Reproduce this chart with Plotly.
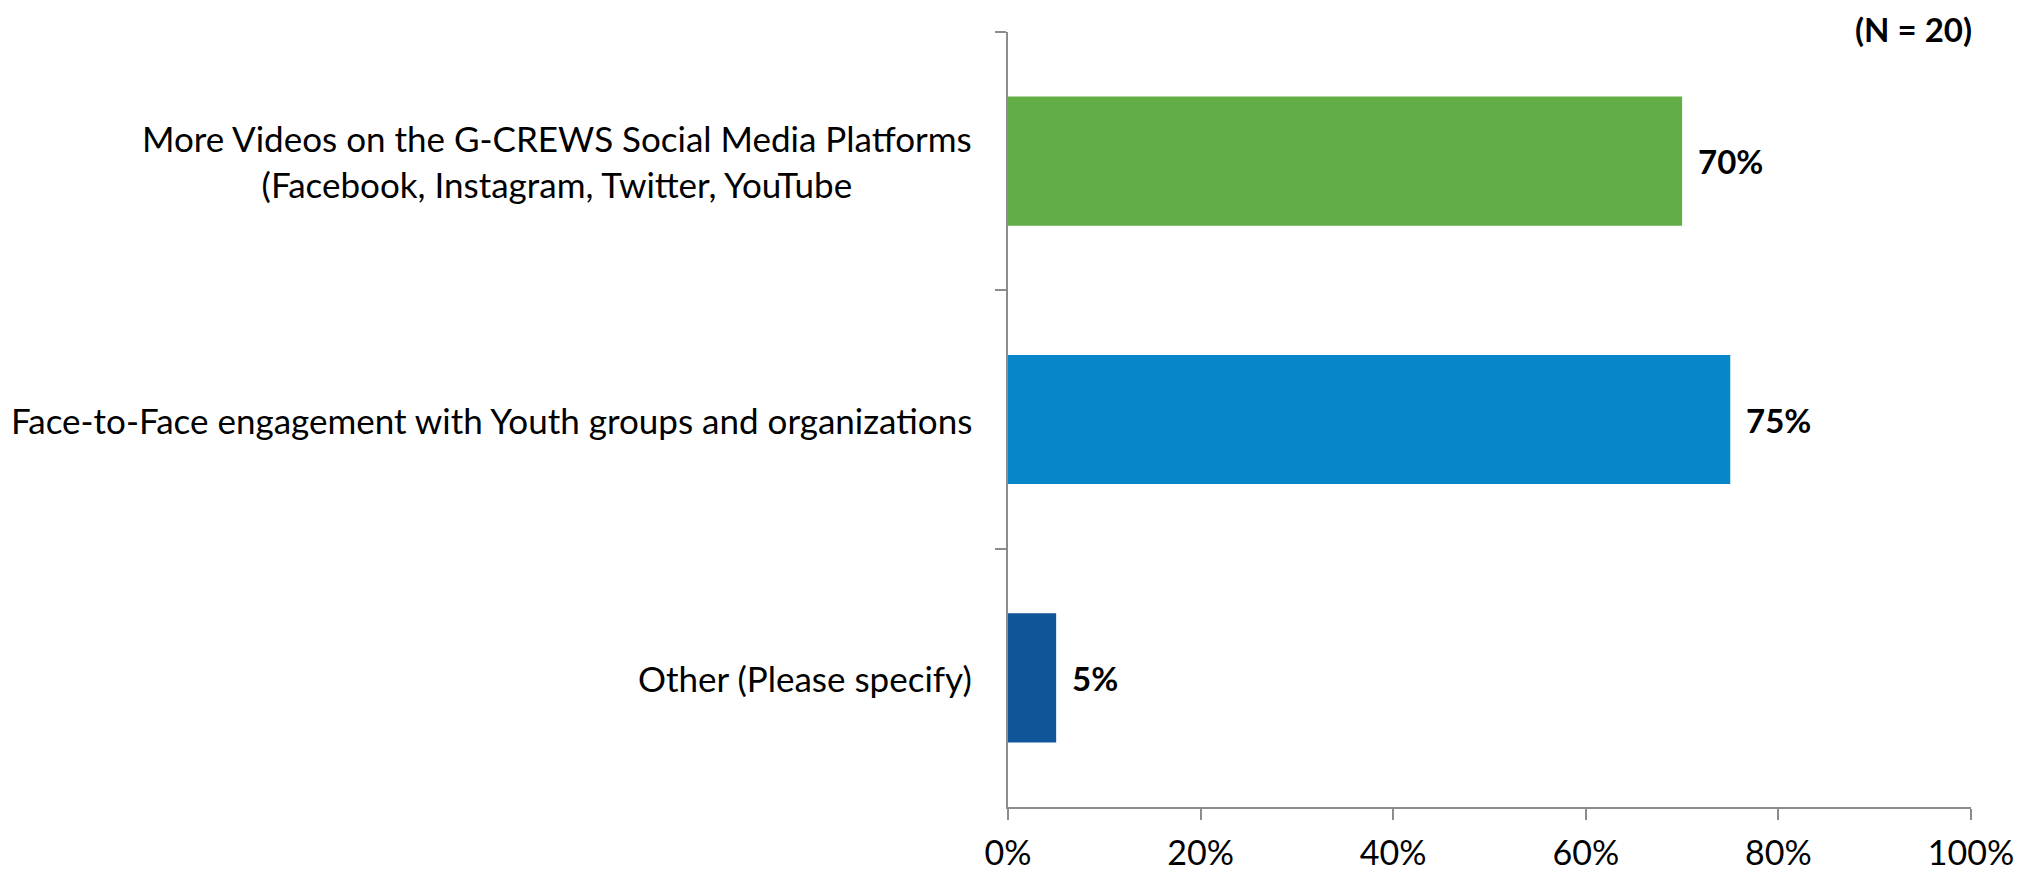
import plotly.graph_objects as go

categories = [
    "More Videos on the G-CREWS Social Media Platforms<br>(Facebook, Instagram, Twitter, YouTube",
    "Face-to-Face engagement with Youth groups and organizations",
    "Other (Please specify)",
]
values = [70, 75, 5]
colors = ["#62AD46", "#0787C9", "#105597"]
x_ticks = [0, 20, 40, 60, 80, 100]
x_tick_labels = ["0%", "20%", "40%", "60%", "80%", "100%"]
note = "(N = 20)"

FONT = "Lato"
# page body has an 8px default margin; compensate so the plot lands where intended
OFF = 8
W, H = 2035 - OFF, 872 - OFF
L, R, T, B = 1008 - OFF, 64, 32 - OFF, 65

fig = go.Figure()
fig.add_trace(go.Bar(
    y=categories, x=values, orientation="h",
    marker=dict(color=colors, line=dict(width=0)),
    width=0.5, hoverinfo="skip",
))

fig.update_layout(
    width=W, height=H,
    margin=dict(l=L, r=R, t=T, b=B, autoexpand=False),
    paper_bgcolor="white", plot_bgcolor="white",
    font=dict(family=FONT, size=35, color="black"),
    showlegend=False,
    xaxis=dict(
        range=[0, 100], tickvals=x_ticks, ticktext=x_tick_labels,
        showgrid=False, zeroline=False,
        showline=True, linecolor="#8C8C8C", linewidth=2,
        ticks="outside", ticklen=11, tickwidth=2, tickcolor="#8C8C8C",
        tickfont=dict(family=FONT, size=34, color="black"),
        ticklabelstandoff=4,
        fixedrange=True,
    ),
    yaxis=dict(
        type="category", autorange="reversed",
        showticklabels=False, showgrid=False, zeroline=False,
        showline=True, linecolor="#8C8C8C", linewidth=2,
        ticks="outside", ticklen=11, tickwidth=2, tickcolor="#8C8C8C",
        tickson="boundaries", fixedrange=True,
    ),
)

# category labels (centered multi-line, right-aligned block)
for c in categories:
    fig.add_annotation(
        x=0, xref="paper", xanchor="right", xshift=-34,
        y=c, yref="y", yanchor="middle",
        text=c, showarrow=False, align="center",
        font=dict(family=FONT, size=35, color="black"),
    )

# value labels
for c, v in zip(categories, values):
    fig.add_annotation(
        x=v, xref="x", xanchor="left", xshift=14,
        y=c, yref="y", yanchor="middle",
        text=f"<b>{v}%</b>", showarrow=False,
        font=dict(family=FONT, size=33, color="black"),
    )

fig.add_annotation(
    x=1, xref="paper", xanchor="right", xshift=2,
    y=1, yref="paper", yanchor="middle", yshift=3,
    text=f"<b>{note}</b>", showarrow=False, borderpad=0,
    font=dict(family=FONT, size=33, color="black"),
)

fig.write_html("out.html")
